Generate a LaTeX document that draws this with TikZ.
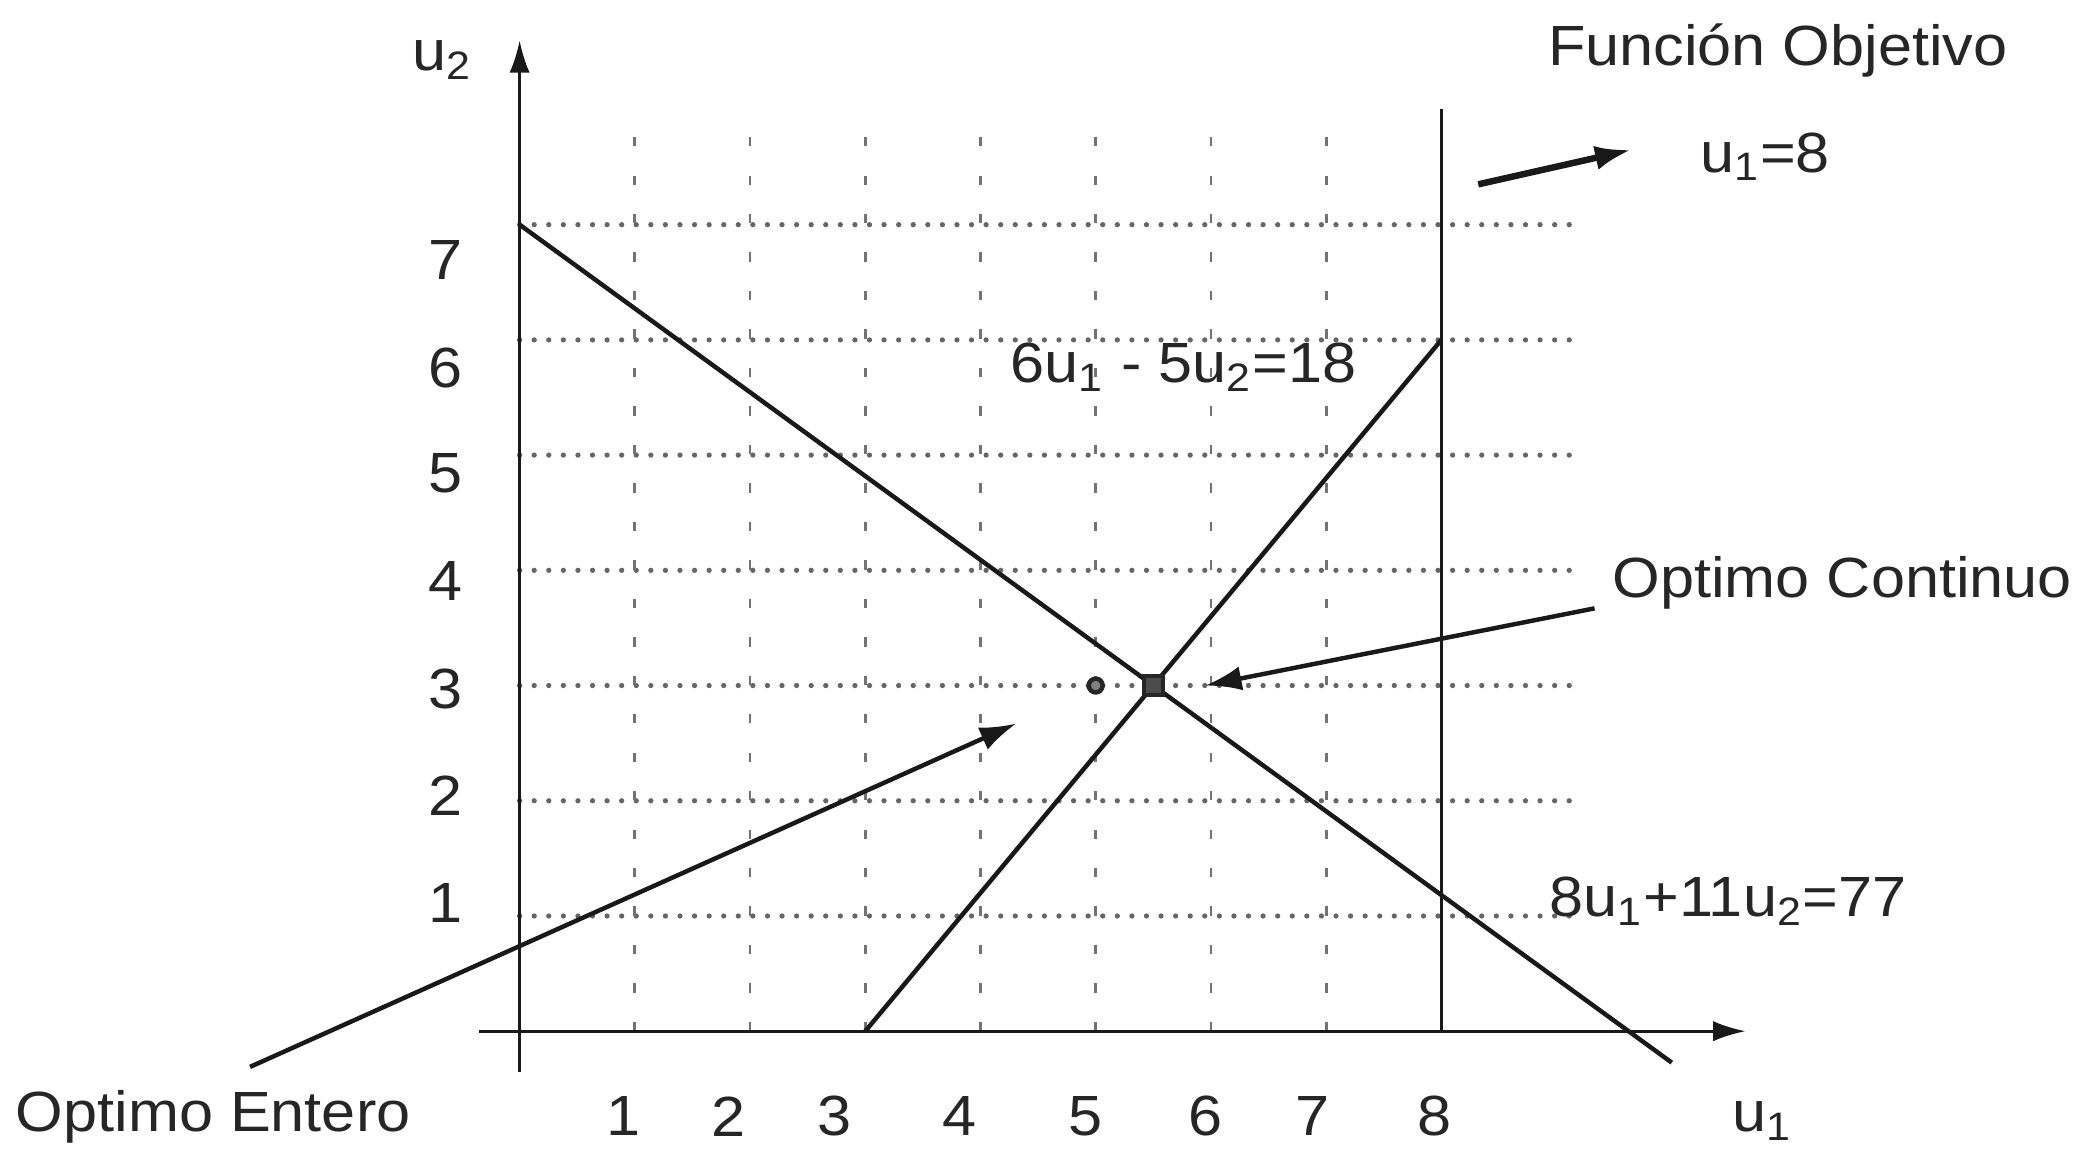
\documentclass[tikz,border=0pt]{standalone}
\usepackage{fontspec}
\setmainfont{Liberation Sans}[FakeStretch=1.08]
\usetikzlibrary{arrows.meta}
\begin{document}
\begin{tikzpicture}[x=1cm,y=1cm,
  txt/.style={font=\fontsize{14pt}{16pt}\selectfont, text=black!85, inner sep=0pt},
  axis/.style={line width=0.7pt, black!90, -{Latex[length=8pt,width=5pt]}},
  cline/.style={line width=1.1pt, black!90},
  hgrid/.style={black!60, line width=1.3pt, line cap=round, dash pattern=on 0pt off 3.6pt},
  vgrid/.style={black!55, line width=0.7pt, dash pattern=on 2.3pt off 7.2pt},
  pointer/.style={line width=1.1pt, black!90, -{Latex[length=9pt,width=6pt]}}]
\useasboundingbox (-4.51,-1.03) rectangle (13.63,8.95);
\fill[white] (-4.51,-1.03) rectangle (13.63,8.95);

% grid
\foreach \y in {1,...,7} \draw[hgrid] (0,\y) -- (9.2,\y);
\foreach \x in {1,...,7} \draw[vgrid] (\x,0) -- (\x,7.9);

% axes
\coordinate (xs) at (-0.35,0);
\coordinate (xe) at (10.64,0);
\coordinate (ys) at (0,-0.35);
\coordinate (ye) at (0,8.6);
\draw[axis] (xs) -- (xe);
\draw[axis] (ys) -- (ye);

% constraint lines
\coordinate (a1) at (0,7);
\coordinate (a2) at (10,-0.273);
\coordinate (b1) at (3,0);
\coordinate (b2) at (8,6);
\coordinate (c1) at (8,0);
\coordinate (c2) at (8,8);
\draw[cline] (a1) -- (a2);
\draw[cline] (b1) -- (b2);
\draw[line width=0.7pt, black!90] (c1) -- (c2);

% points
\node[draw=black!85, fill=black!70, line width=1pt, minimum size=0.16cm, inner sep=0pt] (pc) at (5.5,3) {};
\node[circle, draw=black!85, fill=black!50, line width=1.1pt, minimum size=0.12cm, inner sep=0pt] (pe) at (5,3) {};

% axis labels
\node[txt] (lu2) at (-0.67,8.43) {u\textsubscript{2}};
\node[txt] (lu1) at (10.79,-0.78) {u\textsubscript{1}};
\foreach \x/\v in {0.90/1,1.81/2,2.73/3,3.82/4,4.91/5,5.95/6,6.88/7,7.94/8}
  \node[txt] (xl\v) at (\x,-0.74) {\v};
\foreach \y/\v in {6.69/7,5.76/6,4.84/5,3.91/4,2.97/3,2.04/2,1.11/1}
  \node[txt] (yl\v) at (-0.64,\y) {\v};

% text labels
\node[txt] (fo) at (10.92,8.51) {Función Objetivo};
\node[txt] (u8) at (10.81,7.59) {u\textsubscript{1}=8};
\node[txt] (r1) at (5.76,5.76) {6u\textsubscript{1} - 5u\textsubscript{2}=18};
\node[txt] (oc) at (11.48,3.89) {Optimo Continuo};
\node[txt] (r2) at (10.49,1.13) {8u\textsubscript{1}+11u\textsubscript{2}=77};
\node[txt] (oe) at (-2.66,-0.74) {Optimo Entero};

% pointers
\coordinate (oes) at (-2.34,-0.31);
\coordinate (oee) at (4.31,2.67);
\draw[pointer] (oes) -- (oee);
\coordinate (ocs) at (9.33,3.67);
\coordinate (oce) at (5.95,3.0);
\draw[pointer] (ocs) -- (oce);
\coordinate (fos) at (8.32,7.35);
\coordinate (foe) at (9.65,7.65);
\draw[pointer, line width=1.6pt] (fos) -- (foe);
\end{tikzpicture}
\end{document}
